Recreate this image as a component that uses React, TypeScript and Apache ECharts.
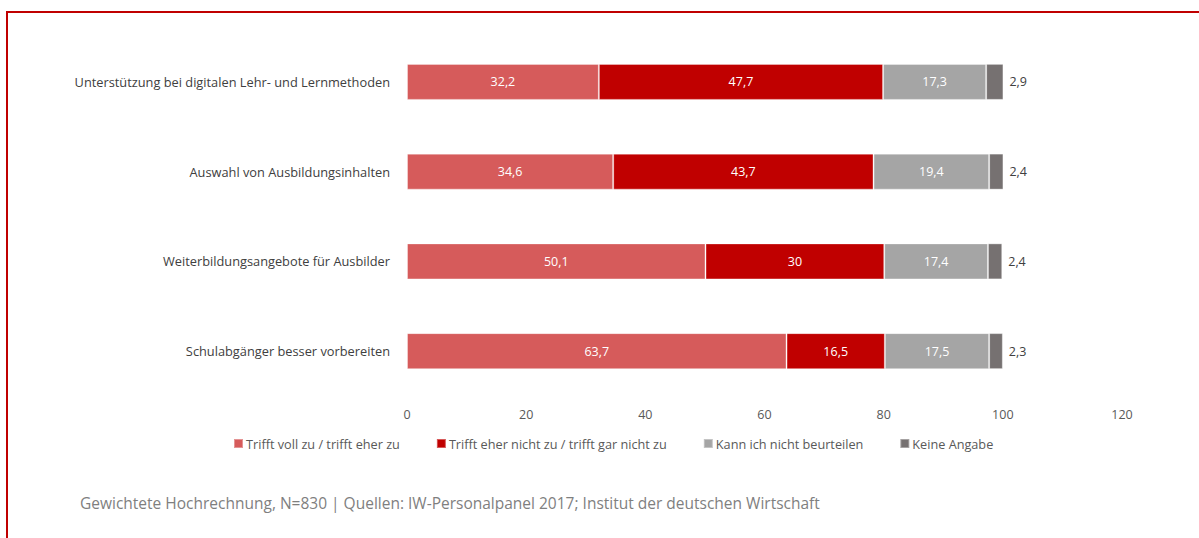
import React, { useEffect, useRef } from "react";
import * as echarts from "echarts";

const categories = [
  "Unterstützung bei digitalen Lehr- und Lernmethoden",
  "Auswahl von Ausbildungsinhalten",
  "Weiterbildungsangebote für Ausbilder",
  "Schulabgänger besser vorbereiten",
];
const seriesNames = [
  "Trifft voll zu / trifft eher zu",
  "Trifft eher nicht zu / trifft gar nicht zu",
  "Kann ich nicht beurteilen",
  "Keine Angabe",
];
const trifftZu = [32.2, 34.6, 50.1, 63.7];
const trifftNicht = [47.7, 43.7, 30, 16.5];
const kannNicht = [17.3, 19.4, 17.4, 17.5];
const keineAngabe = [2.9, 2.4, 2.4, 2.3];
const xTicks = [0, 20, 40, 60, 80, 100, 120];
const sourceText =
  "Gewichtete Hochrechnung, N=830 | Quellen: IW-Personalpanel 2017; Institut der deutschen Wirtschaft";

const colors = ["#D65B5B", "#C00000", "#A5A5A5", "#767171"];
const FONT = "'Open Sans', sans-serif";

export default function App() {
  const ref = useRef<HTMLDivElement>(null);
  useEffect(() => {
    if (!ref.current) return;
    const chart = echarts.init(ref.current, null, { renderer: "svg" });
    const fmt = (p: any) => String(p.value).replace(".", ",");
    const allData = [trifftZu, trifftNicht, kannNicht, keineAngabe];
    chart.setOption({
      animation: false,
      textStyle: { fontFamily: FONT },
      grid: { left: 407, right: 77, top: 37, bottom: 142, containLabel: false },
      xAxis: {
        type: "value",
        min: xTicks[0],
        max: xTicks[xTicks.length - 1],
        interval: 20,
        axisLine: { show: false },
        axisTick: { show: false },
        splitLine: { show: false },
        axisLabel: { color: "#595959", fontSize: 12.5, margin: 12, fontFamily: FONT },
      },
      yAxis: {
        type: "category",
        data: categories,
        inverse: true,
        axisLine: { show: false },
        axisTick: { show: false },
        splitLine: { show: false },
        axisLabel: { color: "#404040", fontSize: 12.8, margin: 17, fontFamily: FONT },
      },
      legend: {
        data: seriesNames,
        left: 233,
        top: 437,
        padding: 0,
        itemWidth: 9,
        itemHeight: 9,
        itemGap: 36,
        icon: "rect",
        textStyle: { color: "#595959", fontSize: 12.7, fontFamily: FONT, padding: [0, 0, 0, -2] },
      },
      series: seriesNames.map((name, i) => ({
        name,
        type: "bar",
        stack: "total",
        barWidth: 36,
        data: allData[i],
        itemStyle: {
          color: colors[i],
          borderColor: "rgba(255,255,255,0.35)",
          borderWidth: 1,
        },
        label: {
          show: true,
          position: i === 3 ? "right" : "inside",
          distance: 6,
          color: i === 3 ? "#404040" : "#ffffff",
          fontSize: 12.5,
          fontFamily: FONT,
          formatter: fmt,
        },
      })),
      graphic: [
        {
          type: "rect",
          shape: { x: 7, y: 12, width: 1300, height: 700 },
          style: { fill: "none", stroke: "#C00000", lineWidth: 2 },
          silent: true,
        },
        {
          type: "text",
          left: 80,
          top: 495,
          style: { text: sourceText, fill: "#7F7F7F", fontSize: 15.5, fontFamily: FONT },
        },
      ],
    });
    return () => chart.dispose();
  }, []);
  return (
    <div
      ref={ref}
      style={{ position: "fixed", left: 0, top: 0, width: 1199, height: 538, background: "#fff" }}
    />
  );
}
